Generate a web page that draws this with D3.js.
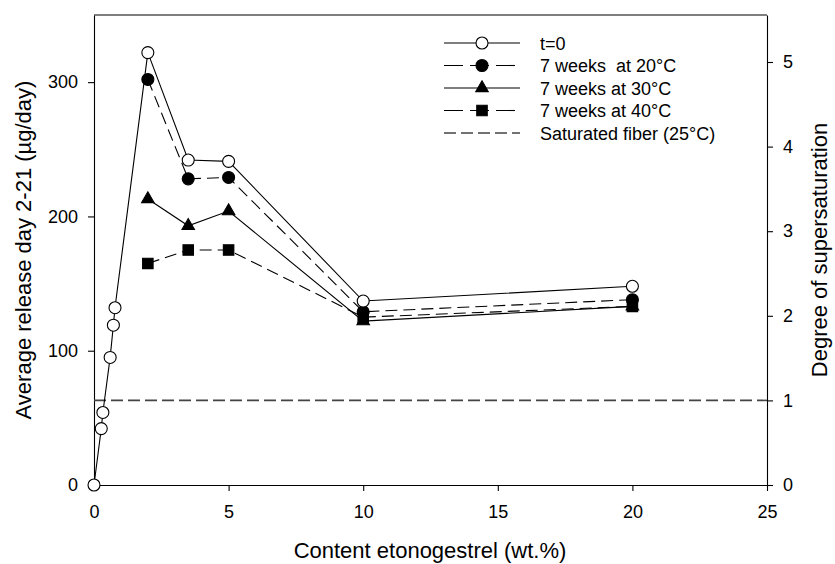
<!DOCTYPE html>
<html><head><meta charset="utf-8">
<script src="https://cdn.jsdelivr.net/npm/d3@7"></script>
<style>body{margin:0;background:#fff}svg{display:block}text{font-family:"Liberation Sans",Arial,sans-serif;fill:#000}</style>
</head><body><svg id="c" width="835" height="564"></svg>
<script>
const xT0 = [0, 0.27, 0.33, 0.6, 0.72, 0.78, 2, 3.5, 5, 10, 20];
const yT0 = [0, 42, 54, 95, 119, 132, 322, 242, 241, 137, 148];
const xAged = [2, 3.5, 5, 10, 20];
const y20 = [302, 228, 229, 129, 138];
const y30 = [213, 193, 204, 122, 133];
const y40 = [165, 175, 175, 125, 133];
const saturated = 63;
const xTicks = [0, 5, 10, 15, 20, 25];
const yTicks = [0, 100, 200, 300];
const rTicks = [0, 1, 2, 3, 4, 5];
const legendLabels = ["t=0", "7 weeks  at 20°C", "7 weeks at 30°C", "7 weeks at 40°C", "Saturated fiber (25°C)"];

const svg = d3.select("#c");
const L = 94, R = 767, T = 15, B = 485;
const x = d3.scaleLinear().domain([0, 25]).range([L, R]);
const y = d3.scaleLinear().domain([0, 350]).range([B, T]);
const yr = d3.scaleLinear().domain([0, 350 / saturated]).range([B, T]);
const LW = 1.1;

function styleAxis(g) {
  g.selectAll("path").attr("stroke", "#000").attr("stroke-width", LW);
  g.selectAll("line").attr("stroke", "#000").attr("stroke-width", LW);
  g.selectAll("text").attr("font-size", 18).style("font-family", "'Liberation Sans', Arial, sans-serif");
}
svg.append("line").attr("x1", L).attr("x2", R).attr("y1", T).attr("y2", T).attr("stroke", "#000").attr("stroke-width", LW);
svg.append("g").attr("transform", `translate(0,${B})`)
  .call(d3.axisBottom(x).tickValues(xTicks).tickSize(6).tickSizeOuter(0).tickPadding(14).tickFormat(d3.format("d"))).call(styleAxis);
svg.append("g").attr("transform", `translate(${L},0)`)
  .call(d3.axisLeft(y).tickValues(yTicks).tickSize(6).tickSizeOuter(0).tickPadding(10).tickFormat(d3.format("d"))).call(styleAxis);
svg.append("g").attr("transform", `translate(${R},0)`)
  .call(d3.axisRight(yr).tickValues(rTicks).tickSize(6).tickSizeOuter(0).tickPadding(10).tickFormat(d3.format("d"))).call(styleAxis);

svg.append("line").attr("x1", L).attr("x2", R).attr("y1", y(saturated)).attr("y2", y(saturated))
  .attr("stroke", "#444").attr("stroke-width", 1.6).attr("stroke-dasharray", "12,5");

const line = d3.line().x(d => x(d[0])).y(d => y(d[1]));
const series = [
  {xs: xT0, ys: yT0, dash: null, sym: d3.symbolCircle, fill: "#fff"},
  {xs: xAged, ys: y20, dash: "12,6", sym: d3.symbolCircle, fill: "#000"},
  {xs: xAged, ys: y30, dash: null, sym: d3.symbolTriangle, fill: "#000"},
  {xs: xAged, ys: y40, dash: "12,6", sym: d3.symbolSquare, fill: "#000"}
];
function sz(s) { return s === d3.symbolCircle ? 113 : (s === d3.symbolTriangle ? 68 : 110); }

series.forEach(s => {
  const pts = s.xs.map((v, i) => [v, s.ys[i]]);
  svg.append("path").attr("d", line(pts)).attr("fill", "none").attr("stroke", "#000")
    .attr("stroke-width", LW).attr("stroke-dasharray", s.dash);
});
series.slice().reverse().forEach(s => {
  const pts = s.xs.map((v, i) => [v, s.ys[i]]);
  svg.append("g").selectAll("path").data(pts).join("path")
    .attr("transform", d => `translate(${x(d[0])},${y(d[1])})`)
    .attr("d", d3.symbol().type(s.sym).size(sz(s.sym)))
    .attr("fill", s.fill).attr("stroke", "#000").attr("stroke-width", LW);
});

const legY = [43, 65.5, 88, 110.5, 133];
const lg = svg.append("g");
legendLabels.forEach((lab, i) => {
  const yy = legY[i];
  if (i < 4) {
    const s = series[i];
    lg.append("line").attr("x1", 444).attr("x2", 520).attr("y1", yy).attr("y2", yy)
      .attr("stroke", "#000").attr("stroke-width", LW).attr("stroke-dasharray", s.dash ? "19,7" : null);
    lg.append("path").attr("transform", `translate(482,${yy})`)
      .attr("d", d3.symbol().type(s.sym).size(sz(s.sym)))
      .attr("fill", s.fill).attr("stroke", "#000").attr("stroke-width", LW);
  } else {
    lg.append("line").attr("x1", 444).attr("x2", 520).attr("y1", yy).attr("y2", yy)
      .attr("stroke", "#444").attr("stroke-width", 1.6).attr("stroke-dasharray", "12,5");
  }
  lg.append("text").attr("x", 540).attr("y", yy + 6.5).attr("font-size", 18)
    .style("white-space", "pre").attr("xml:space", "preserve").text(lab);
});

svg.append("text").attr("x", 430).attr("y", 558).attr("text-anchor", "middle")
  .attr("font-size", 22).text("Content etonogestrel (wt.%)");
svg.append("text").attr("transform", `translate(31,${(T + B) / 2}) rotate(-90)`).attr("text-anchor", "middle")
  .attr("font-size", 22).text("Average release day 2-21 (µg/day)");
svg.append("text").attr("transform", `translate(827,${(T + B) / 2}) rotate(-90)`).attr("text-anchor", "middle")
  .attr("font-size", 22).text("Degree of supersaturation");
</script></body></html>
